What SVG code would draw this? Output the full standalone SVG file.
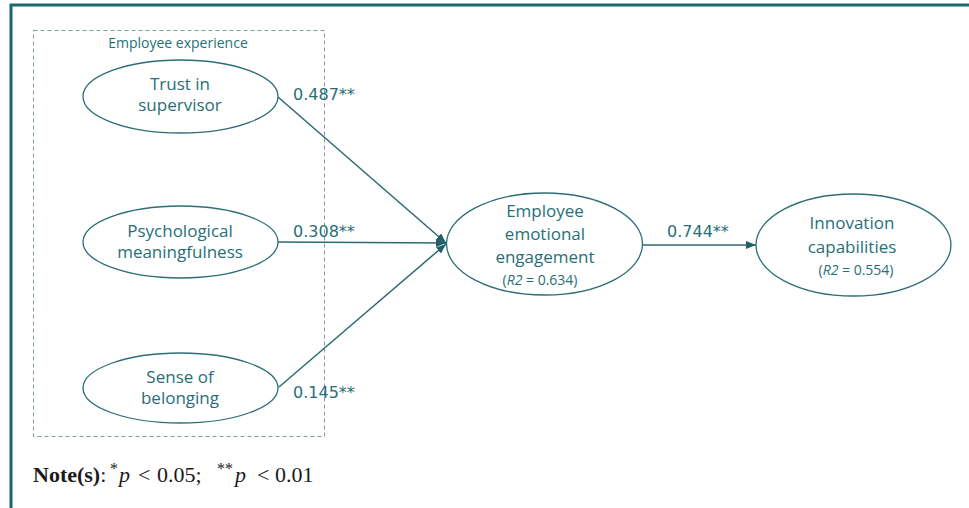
<svg xmlns="http://www.w3.org/2000/svg" width="969" height="508" viewBox="0 0 969 508">
<style>
.node{fill:#ffffff;stroke:#2c6e74;stroke-width:1.3}
.lbl{font-family:"Open Sans","Liberation Sans",sans-serif;font-size:17px;fill:#276f76;text-anchor:middle}
.r2{font-size:14px}
.coef{font-family:"DejaVu Sans","Verdana",sans-serif;font-size:16px;fill:#276f76}
.edge{stroke:#2c6a70;stroke-width:1.5;fill:none;marker-end:url(#arr)}
.note{font-family:"Liberation Serif","Times New Roman",serif;font-size:22px;fill:#1a1a1a}
.sup{font-size:16px}
</style>
<defs>
<marker id="arr" markerUnits="userSpaceOnUse" markerWidth="11" markerHeight="9" refX="10" refY="4" orient="auto">
<path d="M0,0 L10,4 L0,8 z" fill="#1f5f65"/>
</marker>
</defs>
<rect width="969" height="508" fill="#ffffff"/>
<path d="M11,508 V5 H969" fill="none" stroke="#1c666c" stroke-width="3"/>
<g id="group-experience">
<rect x="33.5" y="30.5" width="291" height="406" fill="none" stroke="#7d9fa4" stroke-width="1" stroke-dasharray="4,3"/>
<text x="178" y="48" font-family="Open Sans, Liberation Sans, sans-serif" font-size="14" fill="#276f76" text-anchor="middle">Employee experience</text>
</g>
<g id="connectors">
<line class="edge" x1="278" y1="97" x2="446" y2="243"/>
<line class="edge" x1="278" y1="242" x2="446" y2="243"/>
<line class="edge" x1="279" y1="387" x2="446" y2="244"/>
<line class="edge" x1="643" y1="245" x2="756" y2="245"/>
<text class="coef" x="293" y="100">0.487**</text>
<text class="coef" x="293" y="237">0.308**</text>
<text class="coef" x="293" y="398">0.145**</text>
<text class="coef" x="667" y="237">0.744**</text>
</g>
<g id="trust">
<ellipse class="node" cx="180.5" cy="96.5" rx="97.5" ry="36.5"/>
<text class="lbl" x="180" y="90">Trust in</text>
<text class="lbl" x="180" y="111">supervisor</text>
</g>
<g id="meaning">
<ellipse class="node" cx="180.5" cy="242" rx="97.5" ry="36"/>
<text class="lbl" x="180" y="237">Psychological</text>
<text class="lbl" x="180" y="258">meaningfulness</text>
</g>
<g id="belonging">
<ellipse class="node" cx="180.5" cy="388" rx="97.5" ry="35"/>
<text class="lbl" x="180" y="383">Sense of</text>
<text class="lbl" x="180" y="404">belonging</text>
</g>
<g id="engagement">
<ellipse class="node" cx="544.5" cy="244" rx="98" ry="51"/>
<text class="lbl" x="545" y="217">Employee</text>
<text class="lbl" x="545" y="240">emotional</text>
<text class="lbl" x="545" y="263">engagement</text>
<text class="lbl r2" x="540" y="285">(<tspan font-style="italic">R2</tspan> = 0.634)</text>
</g>
<g id="innovation">
<ellipse class="node" cx="853.5" cy="245" rx="97.5" ry="51"/>
<text class="lbl" x="852" y="229">Innovation</text>
<text class="lbl" x="852" y="253">capabilities</text>
<text class="lbl r2" x="856" y="275">(<tspan font-style="italic">R2</tspan> = 0.554)</text>
</g>
<text class="note" y="482"><tspan x="33" font-weight="bold">Note(s)</tspan><tspan>:</tspan><tspan class="sup" x="110" y="474">*</tspan><tspan x="119" y="482" font-style="italic">p</tspan><tspan x="138">&lt;</tspan><tspan x="157">0.05;</tspan><tspan class="sup" x="217" y="474">**</tspan><tspan x="235" y="482" font-style="italic">p</tspan><tspan x="257">&lt;</tspan><tspan x="275">0.01</tspan></text>
</svg>
